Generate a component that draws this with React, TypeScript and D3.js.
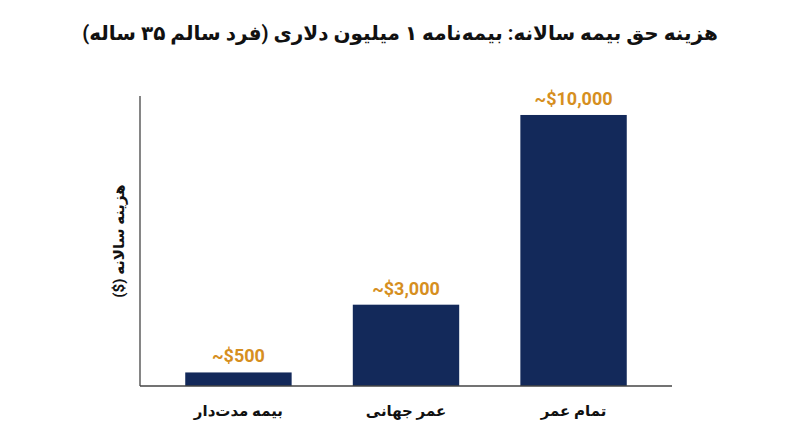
import * as React from 'react'
import { scaleBand, scaleLinear } from 'd3'

const categories = ['بیمه مدت‌دار', 'عمر جهانی', 'تمام عمر']
const premiums = [500, 3000, 10000]
const valueLabels = ['~$500', '~$3,000', '~$10,000']

const title = 'هزینه حق بیمه سالانه: بیمه‌نامه ۱ میلیون دلاری (فرد سالم ۳۵ ساله)'
const yTitle = 'هزینه سالانه ($)'

const width = 800
const height = 447
const left = 140
const right = 672
const top = 96
const bottom = 386

const font = "Roboto, 'DejaVu Sans', sans-serif"

function App() {
  const x = scaleBand<string>()
    .domain(categories)
    .range([left, right])
    .paddingInner(0.365)
    .paddingOuter(0.27)
  const y = scaleLinear().domain([0, 10700]).range([bottom, top])

  return (
    <svg
      width={width}
      height={height}
      style={{ position: 'absolute', left: 0, top: 0, background: '#fff' }}
      fontFamily={font}
    >
      <text
        x={400}
        y={40}
        textAnchor="middle"
        direction="rtl"
        fontSize={20}
        fontWeight="bold"
        fill="#111"
      >
        {title}
      </text>

      {categories.map((c, i) => (
        <g key={c}>
          <rect
            x={x(c)}
            y={y(premiums[i])}
            width={x.bandwidth()}
            height={bottom - y(premiums[i])}
            fill="#13295a"
          />
          <text
            x={(x(c) ?? 0) + x.bandwidth() / 2}
            y={y(premiums[i]) - 10}
            textAnchor="middle"
            fontSize={18}
            fontWeight="bold"
            fill="#d68f1f"
          >
            {valueLabels[i]}
          </text>
          <text
            x={(x(c) ?? 0) + x.bandwidth() / 2}
            y={416}
            textAnchor="middle"
            direction="rtl"
            fontSize={15}
            fontWeight="bold"
            fill="#111"
          >
            {c}
          </text>
        </g>
      ))}

      <line x1={left} x2={left} y1={top} y2={bottom} stroke="#444" strokeWidth={1.3} />
      <line x1={left} x2={right} y1={bottom} y2={bottom} stroke="#444" strokeWidth={1.3} />

      <text
        transform={`translate(124, ${(top + bottom) / 2}) rotate(-90)`}
        textAnchor="middle"
        direction="rtl"
        fontSize={15}
        fontWeight="bold"
        fill="#111"
      >
        {yTitle}
      </text>
    </svg>
  )
}

export default App
